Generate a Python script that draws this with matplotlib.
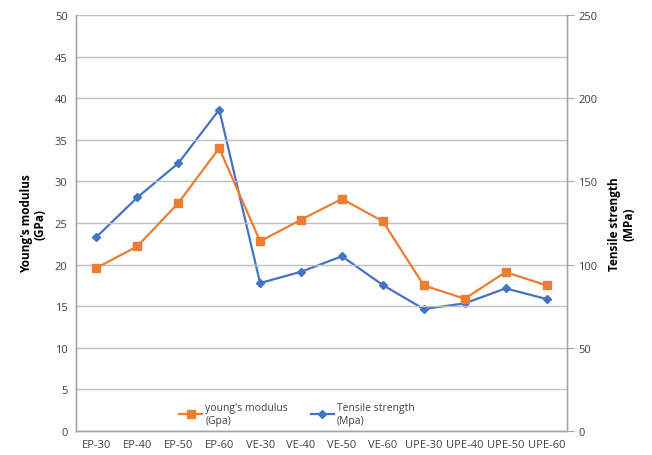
import matplotlib
matplotlib.use("Agg")
import matplotlib.pyplot as plt

categories = ["EP-30", "EP-40", "EP-50", "EP-60", "VE-30", "VE-40", "VE-50", "VE-60",
              "UPE-30", "UPE-40", "UPE-50", "UPE-60"]
youngs_modulus = [19.6, 22.2, 27.4, 34.0, 22.8, 25.4, 27.9, 25.2, 17.5, 15.9, 19.1, 17.5]
tensile_strength = [116.6, 140.4, 160.9, 193.1, 88.9, 95.7, 105.0, 87.7, 73.3, 76.7, 85.7, 79.3]
left_ticks = [0, 5, 10, 15, 20, 25, 30, 35, 40, 45, 50]
right_ticks = [0, 50, 100, 150, 200, 250]

plt.rcParams['font.family'] = ['Open Sans', 'DejaVu Sans']

fig = plt.figure(figsize=(6.52, 4.56), dpi=100)
ax = fig.add_axes([76/652, 24/456, (567-76)/652, (432-16)/456])
ax2 = ax.twinx()

x = list(range(len(categories)))
gray = "#A6A6A6"
tcol = "#404040"

l1, = ax.plot(x, youngs_modulus, color="#ED7D31", lw=1.6, marker="s", ms=6,
              label="young's modulus\n(Gpa)", zorder=3)
l2, = ax2.plot(x, tensile_strength, color="#4472C4", lw=1.6, marker="D", ms=4.5,
               label="Tensile strength\n(Mpa)", zorder=3)

ax.set_xlim(-0.5, len(categories) - 0.5)
ax.set_ylim(0, 50)
ax2.set_ylim(0, 250)
ax.set_yticks(left_ticks)
ax2.set_yticks(right_ticks)
ax.set_xticks(x)
ax.set_xticklabels(categories)

ax.yaxis.grid(True, color="#BFBFBF", lw=1.0)
ax.set_axisbelow(True)

for a in (ax, ax2):
    a.spines['top'].set_visible(False)
    for s in ('left', 'right', 'bottom'):
        a.spines[s].set_color(gray)
        a.spines[s].set_linewidth(1.0)
ax.tick_params(axis='y', length=0, labelsize=8, labelcolor=tcol, pad=6)
ax.tick_params(axis='x', length=0, labelsize=8, labelcolor=tcol, pad=6)
ax2.tick_params(axis='y', length=5, color=gray, labelsize=8, labelcolor=tcol, pad=3)

ax.set_ylabel("Young's modulus\n(GPa)", fontsize=8.5, fontweight='bold', color="#000000",
              labelpad=6, linespacing=1.1)
ax2.set_ylabel("Tensile strength\n(MPa)", fontsize=8.5, fontweight='bold', color="#000000",
               labelpad=8, linespacing=1.1)

leg = ax.legend(handles=[l1, l2], loc='lower center', bbox_to_anchor=(0.45, -0.01),
                ncol=2, frameon=False, fontsize=7.5, handlelength=2.2, handletextpad=0.3,
                columnspacing=2.2, labelcolor=tcol)
ax.set_zorder(ax2.get_zorder() + 1)
ax.patch.set_visible(False)

fig.savefig("out.png", dpi=100)
